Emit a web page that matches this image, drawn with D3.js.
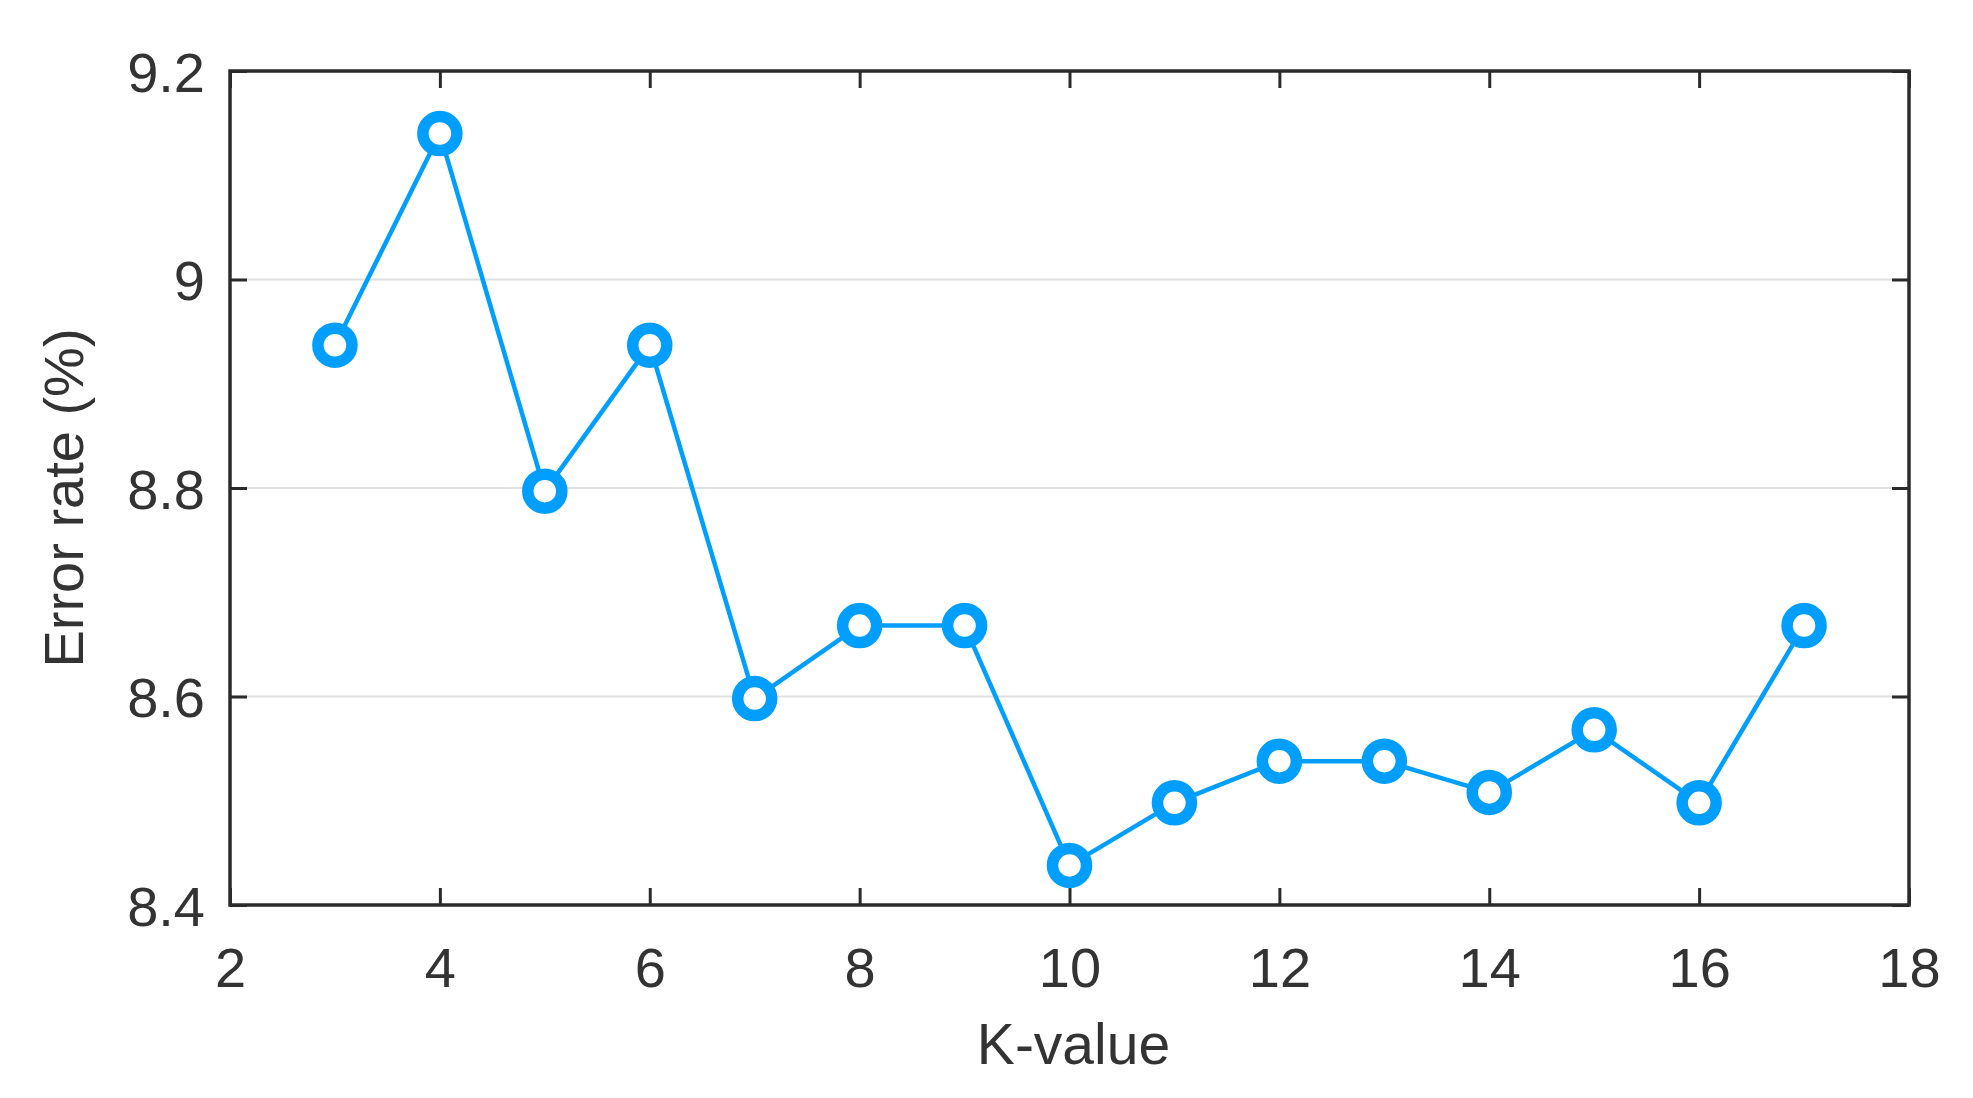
<!DOCTYPE html>
<html>
<head>
<meta charset="utf-8">
<script src="https://cdn.jsdelivr.net/npm/d3@7"></script>
<style>
  html, body { margin: 0; padding: 0; background: #fff; }
  svg { display: block; }
  text { font-family: "Liberation Sans", Arial, Helvetica, sans-serif; fill: #333333; }
</style>
</head>
<body>
<svg id="chart" width="1973" height="1098"></svg>
<script>
const kValues = [3, 4, 5, 6, 7, 8, 9, 10, 11, 12, 13, 14, 15, 16, 17];
const errorRates = [8.937, 9.14, 8.797, 8.937, 8.598, 8.668, 8.668, 8.438, 8.498, 8.538, 8.538, 8.508, 8.568, 8.498, 8.668];
const xTicks = [2, 4, 6, 8, 10, 12, 14, 16, 18];
const yTicks = [8.4, 8.6, 8.8, 9.0, 9.2];
const yTickLabels = ["8.4", "8.6", "8.8", "9", "9.2"];
const xTitle = "K-value";
const yTitle = "Error rate (%)";

const svg = d3.select("#chart");
const L = 230, R = 1909, T = 71, B = 905;
const x = d3.scaleLinear().domain([2, 18]).range([L, R]);
const y = d3.scaleLinear().domain([8.4, 9.2]).range([B, T]);
const axisColor = "#2b2b2b";
const lineColor = "#009FFF";

// gridlines
svg.append("g").selectAll("line")
  .data(yTicks.filter(v => v > 8.4 && v < 9.2))
  .join("line")
  .attr("x1", L).attr("x2", R)
  .attr("y1", d => y(d)).attr("y2", d => y(d))
  .attr("stroke", "#e0e0e0").attr("stroke-width", 2);

const fs = 56, tickLen = 17;

// bottom axis
const xAxis = d3.axisBottom(x).tickValues(xTicks).tickSize(-tickLen).tickPadding(0).tickFormat(d3.format("d"));
const gx = svg.append("g").attr("transform", `translate(0,${B})`).call(xAxis);
gx.select(".domain").remove();
gx.selectAll(".tick line").attr("stroke", axisColor).attr("stroke-width", 3);
gx.selectAll(".tick text").attr("font-size", fs).attr("fill", "#333333")
  .attr("dy", null).attr("y", 82).style("font-family", "Liberation Sans, Arial, sans-serif");

// top axis ticks
const xAxisTop = d3.axisTop(x).tickValues(xTicks).tickSize(-tickLen).tickFormat("");
const gxt = svg.append("g").attr("transform", `translate(0,${T})`).call(xAxisTop);
gxt.select(".domain").remove();
gxt.selectAll(".tick line").attr("stroke", axisColor).attr("stroke-width", 3);

// left axis
const yAxis = d3.axisLeft(y).tickValues(yTicks).tickSize(-tickLen).tickPadding(0)
  .tickFormat((d, i) => yTickLabels[i]);
const gy = svg.append("g").attr("transform", `translate(${L},0)`).call(yAxis);
gy.select(".domain").remove();
gy.selectAll(".tick line").attr("stroke", axisColor).attr("stroke-width", 3);
gy.selectAll(".tick text").attr("font-size", fs).attr("fill", "#333333")
  .attr("x", -25).attr("dy", "0.36em").style("font-family", "Liberation Sans, Arial, sans-serif");

// right axis ticks
const yAxisR = d3.axisRight(y).tickValues(yTicks).tickSize(-tickLen).tickFormat("");
const gyr = svg.append("g").attr("transform", `translate(${R},0)`).call(yAxisR);
gyr.select(".domain").remove();
gyr.selectAll(".tick line").attr("stroke", axisColor).attr("stroke-width", 3);

// data line
const line = d3.line().x((d, i) => x(kValues[i])).y(d => y(d));
svg.append("path").datum(errorRates)
  .attr("d", line).attr("fill", "none")
  .attr("stroke", lineColor).attr("stroke-width", 4.5).attr("stroke-linejoin", "round");

// markers
svg.append("g").selectAll("circle").data(errorRates).join("circle")
  .attr("cx", (d, i) => x(kValues[i])).attr("cy", d => y(d))
  .attr("r", 17).attr("fill", "#fff")
  .attr("stroke", lineColor).attr("stroke-width", 11.5);

// frame
svg.append("rect").attr("x", L).attr("y", T).attr("width", R - L).attr("height", B - T)
  .attr("fill", "none").attr("stroke", axisColor).attr("stroke-width", 3.5);

// titles
svg.append("text").attr("x", (L + R) / 2 + 4).attr("y", 1064)
  .attr("text-anchor", "middle").attr("font-size", 57).text(xTitle);
svg.append("text").attr("transform", "translate(83,498) rotate(-90)")
  .attr("text-anchor", "middle").attr("font-size", 56).text(yTitle);
</script>
</body>
</html>
